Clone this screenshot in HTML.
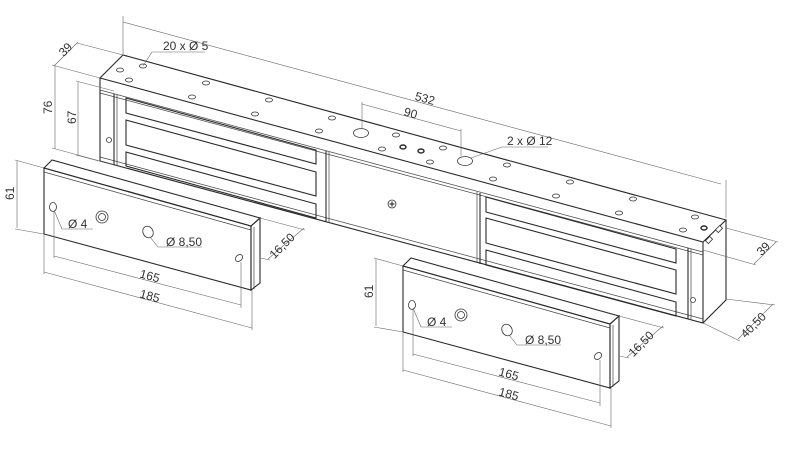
<!DOCTYPE html>
<html><head><meta charset="utf-8"><style>
html,body{margin:0;padding:0;background:#fff;}
svg{display:block;}
text{font-family:"Liberation Sans",sans-serif;font-size:12px;fill:#333;}
.o{stroke:#2a2a2a;stroke-width:1.1;fill:none;}
.t{stroke:#444;stroke-width:0.7;fill:none;}
.d{stroke:#666;stroke-width:0.6;fill:none;}
.h{stroke:#333;stroke-width:0.8;fill:#fff;}
</style></head><body>
<svg width="798" height="452" viewBox="0 0 798 452" xmlns="http://www.w3.org/2000/svg">
<!-- main body -->
<polygon class="o" points="100,78 123,55 726,220 703,242"/>
<polyline class="o" points="100,78 100,161 703,323 703,242"/>
<polyline class="o" points="703,323 726,300 726,220"/>
<line class="t" x1="100" y1="90" x2="703" y2="252"/>
<line class="t" x1="100" y1="93" x2="703" y2="255"/>
<line class="t" x1="100" y1="157" x2="703" y2="319"/>
<!-- left magnet frame -->
<line class="o" x1="114" y1="94" x2="114" y2="165"/>
<line class="t" x1="117" y1="95" x2="117" y2="166"/>
<line class="o" x1="326" y1="151" x2="326" y2="222"/>
<line class="t" x1="329" y1="152" x2="329" y2="223"/>
<polygon class="o" points="126,98 316,150 316,164 126,113"/>
<polygon class="o" points="126,120 316,172 316,196 126,145"/>
<polygon class="o" points="126,152 316,204 316,218 126,166"/>
<!-- right magnet frame -->
<line class="o" x1="480" y1="193" x2="480" y2="264"/>
<line class="t" x1="477" y1="192" x2="477" y2="263"/>
<line class="o" x1="688" y1="248" x2="688" y2="319"/>
<line class="t" x1="691" y1="249" x2="691" y2="320"/>
<polygon class="o" points="486,197 676,249 676,263 486,212"/>
<polygon class="o" points="486,218 676,270 676,294 486,243"/>
<polygon class="o" points="486,250 676,302 676,316 486,265"/>
<line class="t" x1="100" y1="161" x2="100" y2="160"/>
<circle class="h" cx="109" cy="140" r="2.5"/>
<circle class="h" cx="693" cy="300" r="2.5"/>
<circle class="h" cx="392" cy="204" r="4"/>
<line class="o" x1="389.5" y1="204" x2="394.5" y2="204"/><line class="o" x1="392" y1="201.5" x2="392" y2="206.5"/>
<!-- end face slots -->
<rect class="h" x="706" y="238" width="6" height="4" transform="rotate(-45 709 240)"/>
<rect class="h" x="716" y="227" width="6" height="4" transform="rotate(-45 719 229)"/>
<!-- top holes -->
<g class="h">
<ellipse cx="120" cy="70" rx="3.5" ry="2"/><ellipse cx="129" cy="80" rx="3.5" ry="2"/><ellipse cx="143" cy="66" rx="3.5" ry="2"/>
<ellipse cx="206" cy="83" rx="3.5" ry="2"/><ellipse cx="192" cy="97" rx="3.5" ry="2"/>
<ellipse cx="269" cy="100" rx="3.5" ry="2"/><ellipse cx="255" cy="114" rx="3.5" ry="2"/>
<ellipse cx="332" cy="118" rx="3.5" ry="2"/><ellipse cx="319" cy="131" rx="3.5" ry="2"/>
<ellipse cx="361" cy="133" rx="7.5" ry="4.5"/><ellipse cx="396" cy="135" rx="3.5" ry="2"/><ellipse cx="382" cy="149" rx="3.5" ry="2"/>
<ellipse cx="403" cy="147" rx="3" ry="2" stroke-width="1.5"/><ellipse cx="421" cy="151" rx="3" ry="2" stroke-width="1.5"/>
<ellipse cx="443" cy="148" rx="3.5" ry="2"/><ellipse cx="430" cy="162" rx="3.5" ry="2"/>
<ellipse cx="465" cy="161" rx="7.5" ry="4.5"/><ellipse cx="507" cy="165" rx="3.5" ry="2"/><ellipse cx="493" cy="179" rx="3.5" ry="2"/>
<ellipse cx="570" cy="182" rx="3.5" ry="2"/><ellipse cx="556" cy="196" rx="3.5" ry="2"/>
<ellipse cx="633" cy="199" rx="3.5" ry="2"/><ellipse cx="619" cy="213" rx="3.5" ry="2"/>
<ellipse cx="695" cy="217" rx="3.5" ry="2"/><ellipse cx="683" cy="230" rx="3.5" ry="2"/><ellipse cx="704" cy="228" rx="3" ry="2" stroke-width="1.5"/>
</g>
<!-- main dims -->
<g class="d">
<line x1="123" y1="55" x2="123" y2="16"/><line x1="123" y1="22" x2="721" y2="184"/><line x1="726" y1="218" x2="726" y2="180"/>
<line x1="123" y1="55" x2="77" y2="43"/><line x1="100" y1="78" x2="52" y2="65"/><line x1="54" y1="66" x2="78" y2="42"/>
<line x1="55" y1="66" x2="55" y2="149"/><line x1="100" y1="161" x2="52" y2="148"/>
<line x1="114" y1="91" x2="76" y2="81"/><line x1="78" y1="82" x2="78" y2="156"/><line x1="114" y1="165" x2="76" y2="155"/>
<polyline points="143,66 152,52 205,52"/>
<line x1="362" y1="128" x2="362" y2="102"/><line x1="461" y1="156" x2="461" y2="129"/><line x1="362" y1="104" x2="461" y2="131"/>
<polyline points="471,158 502,147 548,147"/>
<line x1="726" y1="228" x2="778" y2="242"/><line x1="703" y1="250" x2="756" y2="265"/><line x1="754" y1="264" x2="776" y2="242"/>
<line x1="726" y1="299" x2="775" y2="305"/><line x1="703" y1="323" x2="740" y2="341"/><line x1="738" y1="339" x2="773" y2="304"/>
</g>
<text x="415" y="102" transform="rotate(15.2 423 98)">532</text>
<text x="404" y="117" transform="rotate(15.2 410 113)">90</text>
<text x="163" y="50">20 x Ø 5</text>
<text x="507" y="145">2 x Ø 12</text>
<text x="59" y="54" transform="rotate(-45 65 50)">39</text>
<text x="42" y="112" transform="rotate(-90 48 108)">76</text>
<text x="66" y="122" transform="rotate(-90 72 118)">67</text>
<text x="758" y="252" transform="rotate(-45 765 250)">39</text>
<text x="740" y="331" transform="rotate(-45 752 328)">40,50</text>
<!-- armature plates -->
<g id="plate">
<polygon class="o" points="44,168 52,160 260,218 251,226"/>
<polygon class="o" points="44,168 251,226 251,290 44,234"/>
<polygon class="o" points="251,226 260,218 260,283 251,290"/>
<line class="t" x1="44" y1="172" x2="251" y2="230"/>
<line class="t" x1="254" y1="227" x2="254" y2="289"/>
<ellipse class="h" cx="53" cy="207" rx="3.5" ry="4.5"/>
<ellipse class="h" cx="239" cy="258" rx="4" ry="3" transform="rotate(-40 239 258)"/>
<circle class="h" cx="102" cy="217" r="6"/><circle class="h" cx="102" cy="217" r="3.5"/>
<ellipse class="h" cx="148" cy="232" rx="5" ry="6" transform="rotate(-30 148 232)"/>
<g class="d">
<line x1="44" y1="168" x2="15" y2="160"/><line x1="17" y1="161" x2="17" y2="228"/><line x1="44" y1="234" x2="15" y2="229"/>
<polyline points="54,210 62,229 93,229"/><polyline points="150,237 158,247 202,247"/>
<line x1="54" y1="212" x2="54" y2="258"/><line x1="54" y1="256" x2="241" y2="305"/><line x1="241" y1="262" x2="241" y2="308"/>
<line x1="44" y1="234" x2="44" y2="274"/><line x1="44" y1="272" x2="252" y2="328"/><line x1="252" y1="290" x2="252" y2="330"/>
<line x1="260" y1="218" x2="305" y2="230"/><line x1="260" y1="258" x2="270" y2="260"/><line x1="268" y1="259" x2="304" y2="228"/>
</g>
<text x="3" y="197" transform="rotate(-90 10 193)">61</text>
<text x="68" y="228">Ø 4</text>
<text x="166" y="246">Ø 8,50</text>
<text x="140" y="280" transform="rotate(15 150 275)">165</text>
<text x="140" y="300" transform="rotate(15 150 295)">185</text>
<text x="268" y="252" transform="rotate(-45 280 248)">16,50</text>
</g>
<use href="#plate" transform="translate(359,98)"/>
</svg>
</body></html>
